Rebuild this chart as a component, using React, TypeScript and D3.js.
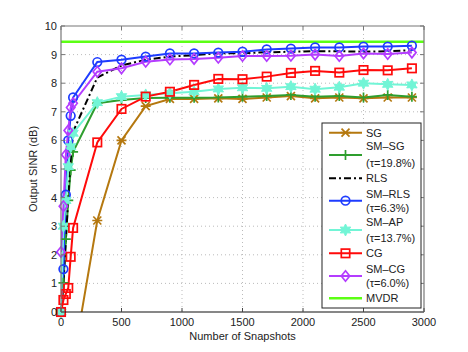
import React from "react";
import * as d3 from "d3";

const snapshots = [0, 20, 40, 60, 80, 100, 300, 500, 700, 900, 1100, 1300, 1500, 1700, 1900, 2100, 2300, 2500, 2700, 2900];
const sgValues = [-3.0, -2.8, -2.5, -2.2, -2.0, -1.76, 3.2, 6.0, 7.2, 7.45, 7.45, 7.47, 7.45, 7.5, 7.55, 7.47, 7.5, 7.47, 7.5, 7.5];
const smSgValues = [0, 1.02, 2.55, 3.9, 4.96, 5.6, 7.3, 7.41, 7.48, 7.49, 7.49, 7.5, 7.53, 7.55, 7.59, 7.53, 7.55, 7.5, 7.59, 7.53];
const rlsValues = [0, 1.0, 2.5, 4.0, 5.3, 6.3, 8.2, 8.62, 8.82, 8.93, 8.98, 9.05, 9.05, 9.08, 9.1, 9.12, 9.12, 9.1, 9.12, 9.15];
const smRlsValues = [0, 1.5, 4.1, 6.0, 6.86, 7.5, 8.74, 8.82, 8.93, 9.04, 9.04, 9.07, 9.1, 9.18, 9.21, 9.25, 9.25, 9.28, 9.28, 9.31];
const smApValues = [0, 3.0, 3.9, 5.08, 5.78, 6.25, 7.32, 7.53, 7.59, 7.65, 7.7, 7.8, 7.84, 7.82, 7.88, 7.79, 7.86, 8.0, 7.96, 7.94];
const cgValues = [0, 0.42, 0.63, 0.84, 1.93, 2.94, 5.93, 7.1, 7.53, 7.7, 7.94, 8.15, 8.14, 8.23, 8.36, 8.43, 8.37, 8.46, 8.45, 8.52];
const smCgValues = [2.1, 3.7, 5.5, 6.35, 7.15, 7.3, 8.4, 8.52, 8.75, 8.83, 8.85, 8.89, 8.95, 8.95, 8.96, 9.0, 8.95, 9.04, 9.02, 9.07];
const mvdrX = [0, 3000];
const mvdrValues = [9.45, 9.45];

const xTicks = [0, 500, 1000, 1500, 2000, 2500, 3000];
const yTicks = [0, 1, 2, 3, 4, 5, 6, 7, 8, 9, 10];

type Series = {
  name: string;
  sub?: string;
  xs: number[];
  ys: number[];
  color: string;
  marker: string;
  dash?: string;
  width?: number;
};

const series: Series[] = [
  { name: "SG", xs: snapshots, ys: sgValues, color: "#b5780f", marker: "asterisk" },
  { name: "SM\u2013SG", sub: "(\u03c4=19.8%)", xs: snapshots, ys: smSgValues, color: "#2e9e2e", marker: "plus" },
  { name: "RLS", xs: snapshots, ys: rlsValues, color: "#000000", marker: "none", dash: "7,3,2,3" },
  { name: "SM\u2013RLS", sub: "(\u03c4=6.3%)", xs: snapshots, ys: smRlsValues, color: "#1e3cff", marker: "circle" },
  { name: "SM\u2013AP", sub: "(\u03c4=13.7%)", xs: snapshots, ys: smApValues, color: "#72f5d6", marker: "star" },
  { name: "CG", xs: snapshots, ys: cgValues, color: "#ff0a0a", marker: "square" },
  { name: "SM\u2013CG", sub: "(\u03c4=6.0%)", xs: snapshots, ys: smCgValues, color: "#b43cff", marker: "diamond" },
  { name: "MVDR", xs: mvdrX, ys: mvdrValues, color: "#5cff14", marker: "none", width: 2.6 },
];

const W = 468;
const H = 352;
const left = 61;
const right = 424;
const top = 26;
const bottom = 312;
const FONT = "'Liberation Sans', Arial, Helvetica, sans-serif";

function Marker({ type, x, y, color }: { type: string; x: number; y: number; color: string }) {
  const sw = 1.7;
  switch (type) {
    case "circle":
      return <circle cx={x} cy={y} r={4.3} fill="none" stroke={color} strokeWidth={sw} />;
    case "square":
      return <rect x={x - 4.2} y={y - 4.2} width={8.4} height={8.4} fill="none" stroke={color} strokeWidth={sw} />;
    case "diamond":
      return <path d={`M${x},${y - 5.2}L${x + 4.2},${y}L${x},${y + 5.2}L${x - 4.2},${y}Z`} fill="none" stroke={color} strokeWidth={sw} />;
    case "plus":
      return <path d={`M${x - 5},${y}H${x + 5}M${x},${y - 5}V${y + 5}`} stroke={color} strokeWidth={sw} />;
    case "asterisk":
      return (
        <path
          d={`M${x - 4},${y - 4}L${x + 4},${y + 4}M${x - 4},${y + 4}L${x + 4},${y - 4}M${x - 5},${y}H${x + 5}`}
          stroke={color}
          strokeWidth={sw}
        />
      );
    case "star": {
      const pts: string[] = [];
      for (let i = 0; i < 12; i++) {
        const a = (Math.PI / 6) * i - Math.PI / 2;
        const r = i % 2 === 0 ? 6 : 3.2;
        pts.push(`${x + r * Math.cos(a)},${y + r * Math.sin(a)}`);
      }
      return <polygon points={pts.join(" ")} fill={color} stroke={color} strokeWidth={1} />;
    }
    default:
      return null;
  }
}

export default function App() {
  const xScale = d3.scaleLinear().domain([0, 3000]).range([left, right]);
  const yScale = d3.scaleLinear().domain([0, 10]).range([bottom, top]);

  const line = (xs: number[], ys: number[]) =>
    d3
      .line<number>()
      .x((_, i) => xScale(xs[i]))
      .y((d) => yScale(d))(ys) || "";

  const legX = 322;
  const legY = 123;
  const legW = 99;
  const legH = 185;
  const legendRows: { main: number; text: number; sub?: number }[] = [
    { main: 132.7, text: 132.7 },
    { main: 155, text: 146, sub: 163 },
    { main: 178.3, text: 178.3 },
    { main: 200.7, text: 194, sub: 208 },
    { main: 230, text: 222.3, sub: 237.7 },
    { main: 253.3, text: 253.3 },
    { main: 276, text: 269, sub: 283.3 },
    { main: 298.3, text: 298.3 },
  ];

  return (
    <svg width={W} height={H} style={{ position: "absolute", left: 0, top: 0, background: "#fff" }} fontFamily={FONT}>
      <defs>
        <clipPath id="plotClip">
          <rect x={left} y={top} width={right - left} height={bottom - top} />
        </clipPath>
      </defs>
      <rect x={0} y={0} width={W} height={H} fill="#fff" />
      <rect x={left} y={top} width={right - left} height={bottom - top} fill="#fff" />
      {xTicks.slice(1, -1).map((t) => (
        <line key={"gx" + t} x1={xScale(t)} x2={xScale(t)} y1={top} y2={bottom} stroke="#aaa" strokeWidth={0.8} strokeDasharray="1,3" />
      ))}
      {yTicks.slice(1, -1).map((t) => (
        <line key={"gy" + t} x1={left} x2={right} y1={yScale(t)} y2={yScale(t)} stroke="#aaa" strokeWidth={0.8} strokeDasharray="1,3" />
      ))}
      <g clipPath="url(#plotClip)">
        {series.map((s) => (
          <path
            key={"l" + s.name}
            d={line(s.xs, s.ys)}
            fill="none"
            stroke={s.color}
            strokeWidth={s.width ?? 2}
            strokeDasharray={s.dash}
          />
        ))}
      </g>
      {series.map((s) => (
        <g key={"m" + s.name}>
          {s.marker !== "none" &&
            s.ys.map((v, i) =>
              v < 0 ? null : <Marker key={i} type={s.marker} x={xScale(s.xs[i])} y={yScale(v)} color={s.color} />
            )}
        </g>
      ))}
      <line x1={left} x2={right} y1={top} y2={top} stroke="#777" strokeWidth={1.2} />
      <line x1={left} x2={left} y1={top} y2={bottom} stroke="#777" strokeWidth={1.2} />
      <line x1={right} x2={right} y1={top} y2={bottom} stroke="#777" strokeWidth={1.2} />
      <line x1={left} x2={right} y1={bottom} y2={bottom} stroke="#111" strokeWidth={1.2} />
      {xTicks.map((t) => (
        <g key={"tx" + t}>
          <line x1={xScale(t)} x2={xScale(t)} y1={bottom} y2={bottom - 4} stroke="#444" />
          <line x1={xScale(t)} x2={xScale(t)} y1={top} y2={top + 4} stroke="#777" />
          <text x={xScale(t)} y={326} textAnchor="middle" fontSize={11} fill="#222">
            {t}
          </text>
        </g>
      ))}
      {yTicks.map((t) => (
        <g key={"ty" + t}>
          <line x1={left} x2={left + 4} y1={yScale(t)} y2={yScale(t)} stroke="#777" />
          <line x1={right} x2={right - 4} y1={yScale(t)} y2={yScale(t)} stroke="#777" />
          <text x={57} y={yScale(t) + 4} textAnchor="end" fontSize={11} fill="#222">
            {t}
          </text>
        </g>
      ))}
      <text x={(left + right) / 2} y={340} textAnchor="middle" fontSize={11} fill="#222">
        Number of Snapshots
      </text>
      <text
        transform={`translate(37,${(top + bottom) / 2}) rotate(-90)`}
        textAnchor="middle"
        fontSize={11}
        fill="#222"
      >
        Output SINR (dB)
      </text>
      <rect x={legX} y={legY} width={legW} height={legH} fill="#fff" stroke="#222" strokeWidth={1} />
      {series.map((s, i) => {
        const r = legendRows[i];
        const x1 = 329;
        const x2 = 362;
        return (
          <g key={"leg" + s.name}>
            <line x1={x1} x2={x2} y1={r.main} y2={r.main} stroke={s.color} strokeWidth={s.width ?? 2} strokeDasharray={s.dash} />
            {s.marker !== "none" && <Marker type={s.marker} x={(x1 + x2) / 2} y={r.main} color={s.color} />}
            <text x={366} y={r.text + 4} fontSize={11} fill="#222">
              {s.name}
            </text>
            {s.sub && (
              <text x={366} y={(r.sub as number) + 4} fontSize={11} fill="#222">
                {s.sub}
              </text>
            )}
          </g>
        );
      })}
    </svg>
  );
}
